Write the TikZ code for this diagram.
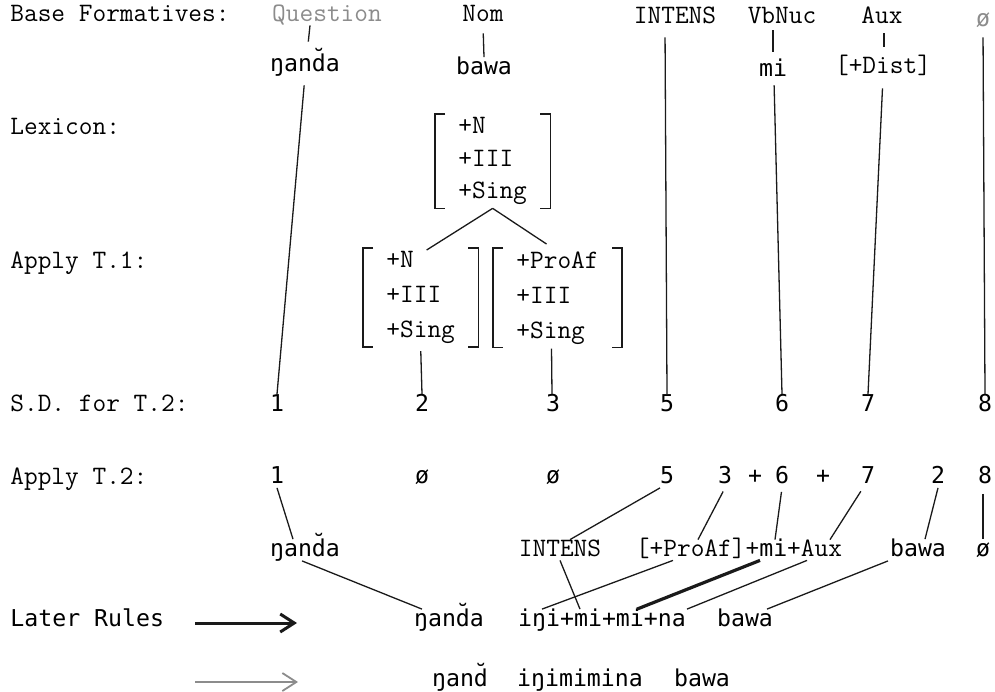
\documentclass[tikz,border=0pt]{standalone}
\usepackage{fontspec}
\usepackage{tikz}
\usetikzlibrary{arrows.meta}
\newfontfamily\gothic{DejaVu Sans Mono}
\newcommand\gothicsz{\gothic\fontsize{11.6}{14}\selectfont}
\definecolor{typeink}{HTML}{1A1A1A}
\definecolor{fadedink}{HTML}{8C8C8C}
\tikzset{
  tw/.style={font=\ttfamily\fontsize{13.3}{16}\selectfont,inner sep=0pt,text height=8pt,text depth=2pt},
  gt/.style={font=\gothicsz,inner sep=0pt,text height=8.5pt,text depth=2pt},
  rowlabel/.style={tw,anchor=west},
  fmat/.style={font=\ttfamily\fontsize{13.3}{17.5}\selectfont,align=left,
    inner xsep=11.5pt,inner ysep=1.5pt,anchor=north west},
  link/.style={line width=0.65pt,typeink},
  heavylink/.style={line width=1.6pt,typeink},
  brk/.style={line width=0.7pt,typeink},
  rulearrow/.style={-{Straight Barb[length=7pt,width=9pt]},line width=1.5pt,typeink}
}
% square brackets round a feature matrix
\newcommand\featbrackets[1]{%
  \draw[brk] ([xshift=5pt]#1.north west) -- (#1.north west) -- (#1.south west) -- ([xshift=5pt]#1.south west);
  \draw[brk] ([xshift=-5pt]#1.north east) -- (#1.north east) -- (#1.south east) -- ([xshift=-5pt]#1.south east);}

\begin{document}
\begin{tikzpicture}[x=0.5pt,y=-0.5pt]
\useasboundingbox[fill=white] (0,0) rectangle (995,691);

% row labels
\node[rowlabel] (lbase) at (10,15) {Base Formatives:};
\node[rowlabel] (llex) at (10,128) {Lexicon:};
\node[rowlabel] (lt1) at (10,262) {Apply T.1:};
\node[rowlabel] (lsd) at (10,405) {S.D. for T.2:};
\node[rowlabel] (lt2) at (10,478) {Apply T.2:};
\node[gt,anchor=west] (llater) at (10,620) {Later Rules};

% base formatives
\node[tw,text=fadedink] (q) at (327,15) {Question};
\node[tw] (nom) at (483,15) {Nom};
\node[tw] (intens) at (675,17) {INTENS};
\node[tw] (vbnuc) at (782,17) {VbNuc};
\node[tw] (aux) at (882,17) {Aux};
\node[gt,text=fadedink] (null) at (983,20) {ø};

\node[gt] (qlex) at (305,65) {ŋand̆a};
\node[gt] (nomlex) at (484,68) {bawa};
\node[gt] (vblex) at (773,70) {mi};
\node[tw] (auxlex) at (883,67) {[+Dist]};

\draw[link,shorten >=6.25pt] ([shift={(-17,0)}]q.south) -- ([shift={(2,0)}]qlex.north);
\draw[link,shorten <=4pt] (nom.south) -- (nomlex.north);
\draw[link,shorten <=1.5pt,shorten >=3.75pt] ([shift={(-9,0)}]vbnuc.south) -- (vblex.north);
\draw[link,shorten <=3pt,shorten >=5pt] ([shift={(2,0)}]aux.south) -- ([shift={(1,0)}]auxlex.north);

% lexicon and T.1
\node[fmat,font=\ttfamily\fontsize{13.3}{16.3}\selectfont] (lexm) at (435,114) {+N\\+III\\+Sing};
\featbrackets{lexm}
\node[fmat] (t1l) at (363,248) {+N\\+III\\+Sing};
\featbrackets{t1l}
\node[fmat] (t1r) at (493,248) {+ProAf\\+III\\+Sing};
\featbrackets{t1r}
\draw[link] (lexm.south) -- ([shift={(6,2)}]t1l.north);
\draw[link] (lexm.south) -- ([shift={(-11,-4)}]t1r.north);

% structural description
\node[gt] (sd1) at (277,405) {1};
\node[gt] (sd2) at (422,405) {2};
\node[gt] (sd3) at (553,405) {3};
\node[gt] (sd5) at (667,405) {5};
\node[gt] (sd6) at (782,405) {6};
\node[gt] (sd7) at (868,405) {7};
\node[gt] (sd8) at (985,405) {8};

\draw[link,shorten <=4.75pt] (qlex.south) -- (sd1.north);
\draw[link,shorten <=5pt] ([shift={(-10,0)}]intens.south) -- (sd5.north);
\draw[link,shorten <=2.25pt] ([shift={(1,0)}]vblex.south) -- (sd6.north);
\draw[link,shorten <=5.5pt] (auxlex.south) -- (sd7.north);
\draw[link,shorten <=3.25pt] (null.south) -- (sd8.north);
\draw[link,shorten <=2pt] (t1l.south) -- (sd2.north);
\draw[link,shorten <=0.5pt] ([shift={(-6,0)}]t1r.south) -- ([shift={(-1,0)}]sd3.north);

% T.2 output
\node[gt] (t2one) at (277,477) {1};
\node[gt] (t2nulla) at (422,477) {ø};
\node[gt] (t2nullb) at (553,477) {ø};
\node[gt] (t2five) at (667,477) {5};
\node[gt] (t2three) at (725,477) {3};
\node[gt] (plusa) at (755,477) {+};
\node[gt] (t2six) at (782,477) {6};
\node[gt] (plusb) at (823,477) {+};
\node[gt] (t2seven) at (868,477) {7};
\node[gt] (t2two) at (938,477) {2};
\node[gt] (t2eight) at (985,477) {8};

\node[gt] (r3q) at (305,550) {ŋand̆a};
\node[tw] (r3int) at (560,550) {INTENS};
\node[tw] (r3aux) at (739,550) {[+ProAf]+{\gothicsz mi}+Aux};
\node[gt] (r3bawa) at (918,550) {bawa};
\node[gt] (r3null) at (983,550) {ø};

\draw[link] (t2one.south) -- ([shift={(-12,0)}]r3q.north);
\draw[link] ([shift={(-7,0)}]t2five.south) -- ([shift={(10,0)}]r3int.north);
\draw[link,shorten <=2pt] (t2three.south) -- ([shift={(-41,0)}]r3aux.north);
\draw[link,shorten <=2pt] (t2six.south) -- ([shift={(36,0)}]r3aux.north);
\draw[link,shorten <=2pt] ([shift={(-5,0)}]t2seven.south) -- ([shift={(91,0)}]r3aux.north);
\draw[link] (t2two.south) -- ([shift={(7,0)}]r3bawa.north);
\draw[link,shorten <=3pt] ([shift={(-2,0)}]t2eight.south) -- (r3null.north);

% later rules
\node[gt] (r4q) at (449,620) {ŋand̆a};
\node[gt] (r4word) at (602,620) {iŋi+mi+mi+na};
\node[gt] (r4bawa) at (745,620) {bawa};

\draw[link] ([shift={(-3,0)}]r3q.south) -- ([shift={(-27,0)}]r4q.north);
\draw[link] (r3int.south) -- ([shift={(-22,0)}]r4word.north);
\draw[link] ([shift={(-66,0)}]r3aux.south) -- ([shift={(-60,0)}]r4word.north);
\draw[heavylink] ([shift={(21,0)}]r3aux.south) -- ([shift={(35,0)}]r4word.north);
\draw[link] ([shift={(68,0)}]r3aux.south) -- ([shift={(85,0)}]r4word.north);
\draw[link] ([shift={(-30,0)}]r3bawa.south) -- ([shift={(22,0)}]r4bawa.north);

\node[gt] (r5q) at (460,680) {ŋand̆};
\node[gt] (r5word) at (580,680) {iŋimimina};
\node[gt] (r5bawa) at (702,680) {bawa};

\coordinate (taila) at (195,623);
\coordinate (tipa) at (297,623);
\draw[rulearrow] (taila) -- (tipa);
\coordinate (tailb) at (195,682);
\coordinate (tipb) at (298,682);
\draw[rulearrow,fadedink,line width=0.9pt] (tailb) -- (tipb);
\end{tikzpicture}
\end{document}
